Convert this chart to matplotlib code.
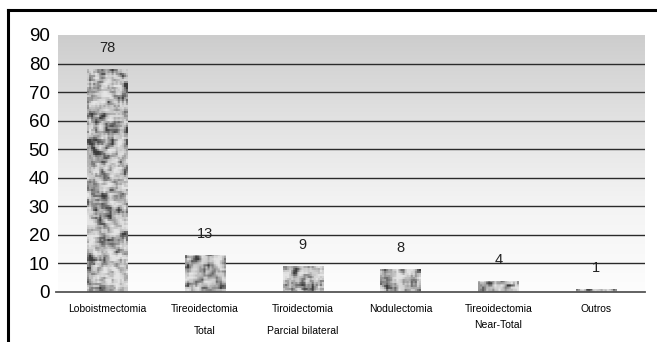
import numpy as np
import matplotlib.pyplot as plt
from matplotlib.colors import LinearSegmentedColormap

plt.rcParams['font.family'] = ['Liberation Sans', 'DejaVu Sans']

# Procedures and counts
categories = ['Loboistmectomia', 'Tireoidectomia\nTotal', 'Tiroidectomia\nParcial bilateral',
              'Nodulectomia', 'Tireoidectomia\nNear-Total', 'Outros']
counts = [78, 13, 9, 8, 4, 1]
yticks = [0, 10, 20, 30, 40, 50, 60, 70, 80, 90]

fig = plt.figure(figsize=(6.57, 3.42), dpi=100)
ax = fig.add_axes([0.0883, 0.1462, 0.8934, 0.7515])
ax.set_xlim(-0.5, len(categories) - 0.5)
ax.set_ylim(0, 90)

# grey-to-white background gradient
grad = np.linspace(0, 1, 256).reshape(-1, 1)
bg_cmap = LinearSegmentedColormap.from_list('bg', ['#fdfdfd', '#f4f4f4', '#e2e2e2', '#cdcdcd'])
ax.imshow(grad, extent=[-0.5, len(categories) - 0.5, 0, 90], origin='lower',
          aspect='auto', cmap=bg_cmap, zorder=0)

for y in yticks[1:-1]:
    ax.axhline(y, color='#2a2a2a', lw=1.0, zorder=1)
ax.axhline(0, color='#555555', lw=1.3, zorder=3, xmin=-0.004, clip_on=False)


def mottled(h_px, w_px, rng):
    # blurred noise at roughly one cell per 2 px
    cells = rng.random((h_px // 2 + 4, w_px // 2 + 4))
    pad = np.pad(cells, 1, mode='wrap')
    sm = sum(pad[i:i + cells.shape[0], j:j + cells.shape[1]] for i in range(3) for j in range(3)) / 9.0
    sm = np.repeat(np.repeat(sm, 2, axis=0), 2, axis=1)[:h_px, :w_px]
    sm = (sm - sm.mean()) / sm.std()
    return sm


rng = np.random.default_rng(7)
grey_cmap = LinearSegmentedColormap.from_list('tex', ['#3c3c3c', '#8a8a8a', '#c4c4c4', '#e4e4e4'])
px_per_unit = 257 / 90

x = np.arange(len(categories))
bars = ax.bar(x, counts, width=0.41, color='none', edgecolor='none', zorder=2)
for b in bars:
    x0, w, h = b.get_x(), b.get_width(), b.get_height()
    tex = mottled(max(4, int(round(h * px_per_unit))), 40, rng)
    im = ax.imshow(tex, extent=[x0, x0 + w, 0, h], cmap=grey_cmap,
                   vmin=-2.2, vmax=1.6, aspect='auto', interpolation='bilinear', zorder=2)
    im.set_clip_path(b)

for xi, v in zip(x, counts):
    ax.annotate(str(v), (xi, v), xytext=(0, 10), textcoords='offset points',
                ha='center', va='bottom', fontsize=10.5, color='#222222', zorder=4)

ax.set_yticks(yticks)
ax.set_yticklabels([str(t) for t in yticks], fontsize=13.5)
ax.set_xticks(x)
ax.set_xticklabels(categories, fontsize=7.5)
for lbl in ax.get_xticklabels():
    lbl.set_linespacing(1.7 if 'Near' in lbl.get_text() else 2.4)
    lbl.set_verticalalignment('top')
ax.tick_params(axis='both', length=0)
ax.tick_params(axis='y', pad=6)
ax.tick_params(axis='x', pad=9)
for s in ax.spines.values():
    s.set_visible(False)

# frame lines along the top and left of the figure
fig.add_artist(plt.Line2D([0.0122, 1.0], [0.971, 0.971], color='black', lw=2.2))
fig.add_artist(plt.Line2D([0.0122, 0.0122], [0.0, 0.971], color='black', lw=2.2))

fig.savefig('out.png', dpi=100)
